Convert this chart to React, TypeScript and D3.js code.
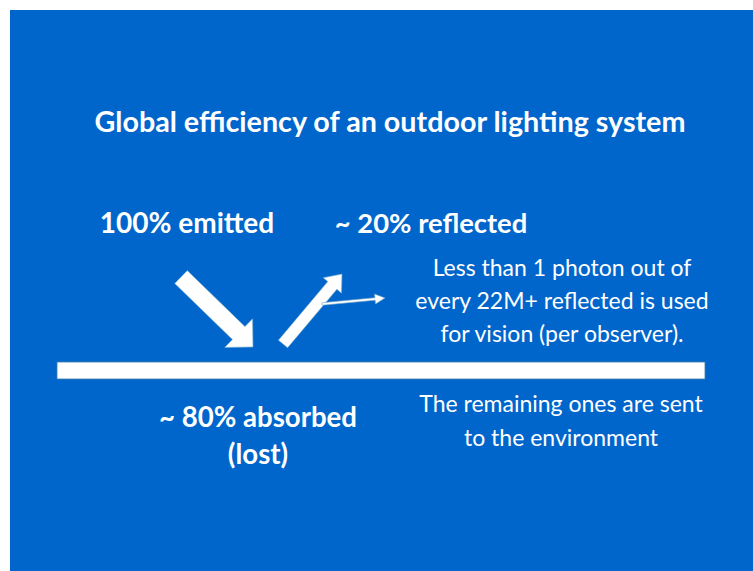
import React, { useEffect, useRef } from 'react';
import * as d3 from 'd3';

const title = 'Global efficiency of an outdoor lighting system';
const emittedLabel = ['100% emitted'];
const reflectedLabel = ['~ 20% reflected'];
const absorbedLabel = ['~ 80% absorbed', '(lost)'];
const visionNote = ['Less than 1 photon out of', 'every 22M+ reflected is used', 'for vision (per observer).'];
const environmentNote = ['The remaining ones are sent', 'to the environment'];

const W = 753;
const H = 571;
const BG = '#0066cc';
const FONT = 'Lato, "Open Sans", sans-serif';

// block arrow polygon from tail to tip
function arrowPath(x1: number, y1: number, x2: number, y2: number, shaft: number, headW: number, headL: number) {
  const dx = x2 - x1;
  const dy = y2 - y1;
  const len = Math.hypot(dx, dy);
  const ux = dx / len;
  const uy = dy / len;
  const nx = -uy;
  const ny = ux;
  const bx = x2 - ux * headL;
  const by = y2 - uy * headL;
  const pts: [number, number][] = [
    [x1 + nx * shaft / 2, y1 + ny * shaft / 2],
    [bx + nx * shaft / 2, by + ny * shaft / 2],
    [bx + nx * headW / 2, by + ny * headW / 2],
    [x2, y2],
    [bx - nx * headW / 2, by - ny * headW / 2],
    [bx - nx * shaft / 2, by - ny * shaft / 2],
    [x1 - nx * shaft / 2, y1 - ny * shaft / 2],
  ];
  return d3.line()(pts) + 'Z';
}

const App: React.FC = () => {
  const svgRef = useRef<SVGSVGElement>(null);

  useEffect(() => {
    if (!svgRef.current) return;
    const svg = d3.select(svgRef.current);
    svg.selectAll('*').remove();

    svg.append('rect')
      .attr('x', 10).attr('y', 10)
      .attr('width', W - 10).attr('height', H - 10)
      .attr('fill', BG);

    // surface
    svg.append('rect')
      .attr('x', 57).attr('y', 362)
      .attr('width', 648).attr('height', 17)
      .attr('fill', '#ffffff')
      .attr('stroke', '#3a7fa8')
      .attr('stroke-width', 0.8);

    const addLines = (lines: string[], cx: number, y0: number, step: number, size: number, weight: string) => {
      svg.append('g')
        .selectAll('text')
        .data(lines)
        .enter().append('text')
        .attr('x', cx)
        .attr('y', (_d, i) => y0 + i * step)
        .attr('text-anchor', 'middle')
        .style('font-family', FONT)
        .style('font-size', `${size}px`)
        .style('font-weight', weight)
        .style('fill', '#ffffff')
        .text(d => d);
    };

    addLines([title], 390, 132, 0, 28.7, 'bold');
    addLines(emittedLabel, 187, 233, 0, 28, 'bold');
    addLines(reflectedLabel, 431, 233, 0, 27.4, 'bold');
    addLines(absorbedLabel, 258, 427, 37, 27.6, 'bold');
    addLines(visionNote, 562, 276, 33, 23, 'normal');
    addLines(environmentNote, 561, 412, 34, 23, 'normal');

    // arrows
    const arrows = [
      { x1: 181, y1: 277, x2: 253, y2: 347, shaft: 18, headW: 40, headL: 20 },
      { x1: 283, y1: 344, x2: 342, y2: 274, shaft: 12, headW: 24, headL: 15 },
      { x1: 322, y1: 304, x2: 385, y2: 298, shaft: 2.5, headW: 10, headL: 10 },
    ];
    svg.append('g')
      .selectAll('path')
      .data(arrows)
      .enter().append('path')
      .attr('d', d => arrowPath(d.x1, d.y1, d.x2, d.y2, d.shaft, d.headW, d.headL))
      .attr('fill', '#ffffff')
      .attr('stroke', '#6fa7c8')
      .attr('stroke-width', 0.6);
  }, []);

  return (
    <svg
      ref={svgRef}
      width={W}
      height={H}
      style={{ position: 'absolute', left: 0, top: 0, display: 'block' }}
    />
  );
};

export default App;
